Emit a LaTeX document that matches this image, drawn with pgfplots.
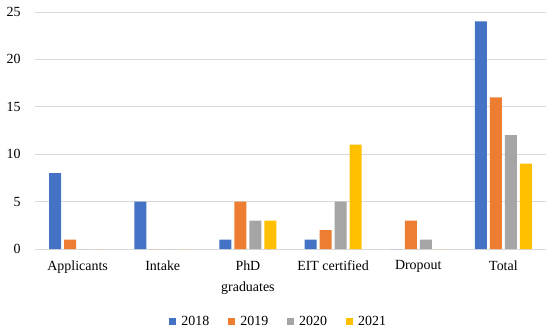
\documentclass[border=0pt]{standalone}
\usepackage{fontspec}
\setmainfont{Liberation Serif}
\usepackage{pgfplots}
\pgfplotsset{compat=1.18}
\definecolor{c18}{HTML}{4472C4}
\definecolor{c19}{HTML}{ED7D31}
\definecolor{c20}{HTML}{A5A5A5}
\definecolor{c21}{HTML}{FFC000}
\definecolor{gridc}{HTML}{D9D9D9}
\begin{document}
\begin{tikzpicture}
\begin{axis}[
  scale only axis,
  width=511bp, height=237bp,
  ybar=3bp, bar width=12bp,
  ymin=0, ymax=25, ytick={0,5,...,25},
  xmin=-0.5, xmax=5.5,
  xtick={0,1,2,3,4,5},
  xticklabels={Applicants,Intake,{PhD\\[4bp]graduates},EIT certified,Dropout,Total},
  xticklabel style={align=center, font=\fontsize{14}{17}\selectfont, anchor=north},
  yticklabel style={font=\fontsize{14}{17}\selectfont},
  /pgf/number format/assume math mode=true,
  axis y line*=left, axis x line*=bottom,
  y axis line style={draw=none},
  x axis line style={draw=gridc, line width=0.8pt},
  major tick length=0pt,
  ymajorgrids, grid style={gridc, line width=0.8pt},
  xtick pos=bottom,
  tick align=outside,
  yticklabel shift=11bp,
  xticklabel shift=8bp,
  clip=false,
  legend style={at={(0.477,-0.307)}, anchor=center, draw=none, legend columns=4,
    font=\fontsize{14}{17}\selectfont, /tikz/every even column/.append style={column sep=17bp}},
  legend image code/.code={\fill[#1] (0bp,-3.5bp) rectangle (7bp,3.5bp); \path (10bp,0bp);},
]
\addplot[fill=c18, draw=none] coordinates {(0,8) (1,5) (2,1) (3,1) (4,0) (5,24)};
\addplot[fill=c19, draw=none] coordinates {(0,1) (1,0) (2,5) (3,2) (4,3) (5,16)};
\addplot[fill=c20, draw=none] coordinates {(0,0) (1,0) (2,3) (3,5) (4,1) (5,12)};
\addplot[fill=c21, draw=none] coordinates {(0,0) (1,0) (2,3) (3,11) (4,0) (5,9)};
\legend{2018,2019,2020,2021}
\coordinate (bl) at (rel axis cs:0,0);
\coordinate (tr) at (rel axis cs:1,1);
\end{axis}
\path[use as bounding box] ([xshift=-35bp,yshift=-86bp]bl) rectangle ([xshift=4bp,yshift=12bp]tr);
\end{tikzpicture}
\end{document}
